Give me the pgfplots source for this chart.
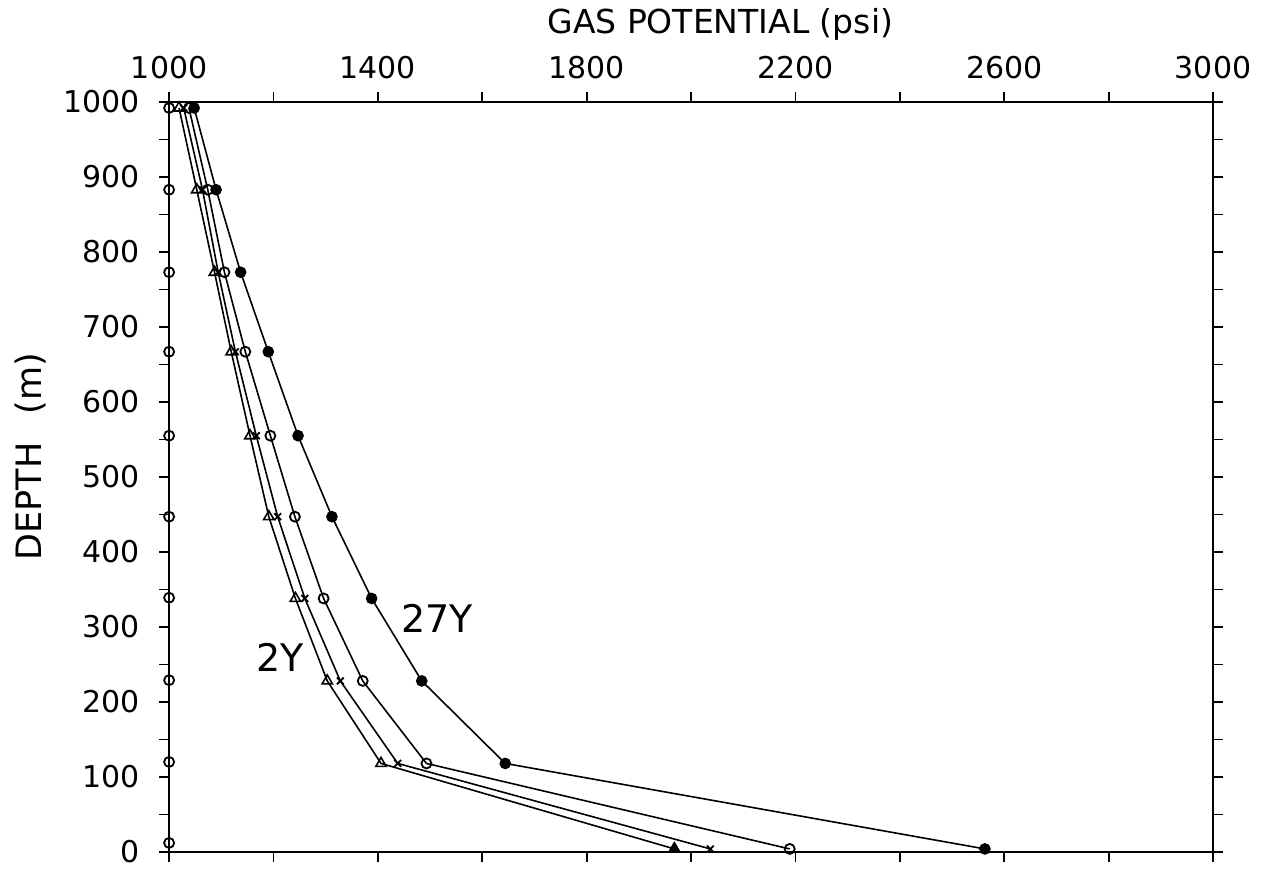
\documentclass[border=0pt]{standalone}
\usepackage{pgfplots}
\pgfplotsset{compat=1.18}
\usepackage{fontspec}
\setmainfont{DejaVu Sans}
\begin{document}
\begin{tikzpicture}
\begin{axis}[
  scale only axis, width=522pt, height=375pt,
  xmin=1000, xmax=3000, ymin=0, ymax=1000,
  clip=false,
  axis line style={line width=1pt},
  tick style={line width=0.9pt, black},
  tick align=outside,
  major tick length=5pt,
  xtick={1000,1200,...,3000},
  xticklabels={1000,,1400,,1800,,2200,,2600,,3000},
  xticklabel pos=upper,
  ytick={0,50,...,1000},
  yticklabels={0,,100,,200,,300,,400,,500,,600,,700,,800,,900,,1000},
  yticklabel pos=left,
  ticklabel style={font=\fontsize{15}{18}\selectfont},
  xticklabel style={yshift=3pt},
  yticklabel style={xshift=-6pt},
  /pgf/number format/assume math mode=true,
  xlabel={GAS POTENTIAL (psi)},
  xlabel style={font=\fontsize{16.5}{19}\selectfont, at={(axis description cs:0.528,1.103)}, anchor=center},
  ylabel={DEPTH\hspace{0.8em}(m)},
  ylabel style={font=\fontsize{17.5}{20}\selectfont, at={(axis description cs:-0.133,0.527)}, anchor=center},
  every axis plot/.append style={line width=0.8pt, black},
]
% initial state (on axis)
\addplot[only marks, mark=o, mark size=2.5pt, mark options={line width=0.9pt}] coordinates {
(1000,992) (1000,883) (1000,773) (1000,667) (1000,555) (1000,447) (1000,339) (1000,229) (1000,120) (1000,12)};
% 2Y triangles
\addplot[mark=triangle, mark size=3pt, mark options={line width=0.8pt}] coordinates {
(1019,992) (1053,883) (1087,773) (1119,667) (1155,555) (1191,447) (1242,338) (1303,228) (1406,118) (1968,4)};
\addplot[only marks, mark=triangle*, mark size=3pt] coordinates {(1968,4)};
% crosses
\addplot[mark=x, mark size=2.4pt, mark options={line width=0.9pt}] coordinates {
(1028,992) (1064,883) (1094,773) (1127,667) (1167,555) (1208,447) (1260,338) (1328,228) (1438,118) (2037,4)};
% open circles
\addplot[mark=o, mark size=2.5pt, mark options={line width=0.9pt}] coordinates {
(1038,992) (1074,883) (1106,773) (1146,667) (1194,555) (1241,447) (1296,338) (1371,228) (1493,118) (2189,4)};
% 27Y filled circles
\addplot[mark=*, mark size=2.5pt] coordinates {
(1048,992) (1090,883) (1137,773) (1190,667) (1247,555) (1312,447) (1388,338) (1484,228) (1644,118) (2563,4)};
\node[font=\fontsize{19}{22}\selectfont] at (axis cs:1212,260) {2Y};
\node[font=\fontsize{19}{22}\selectfont] at (axis cs:1513,312) {27Y};
\path (axis description cs:-0.162,-0.024) rectangle (axis description cs:1.0565,1.136);
\end{axis}
\end{tikzpicture}
\end{document}
